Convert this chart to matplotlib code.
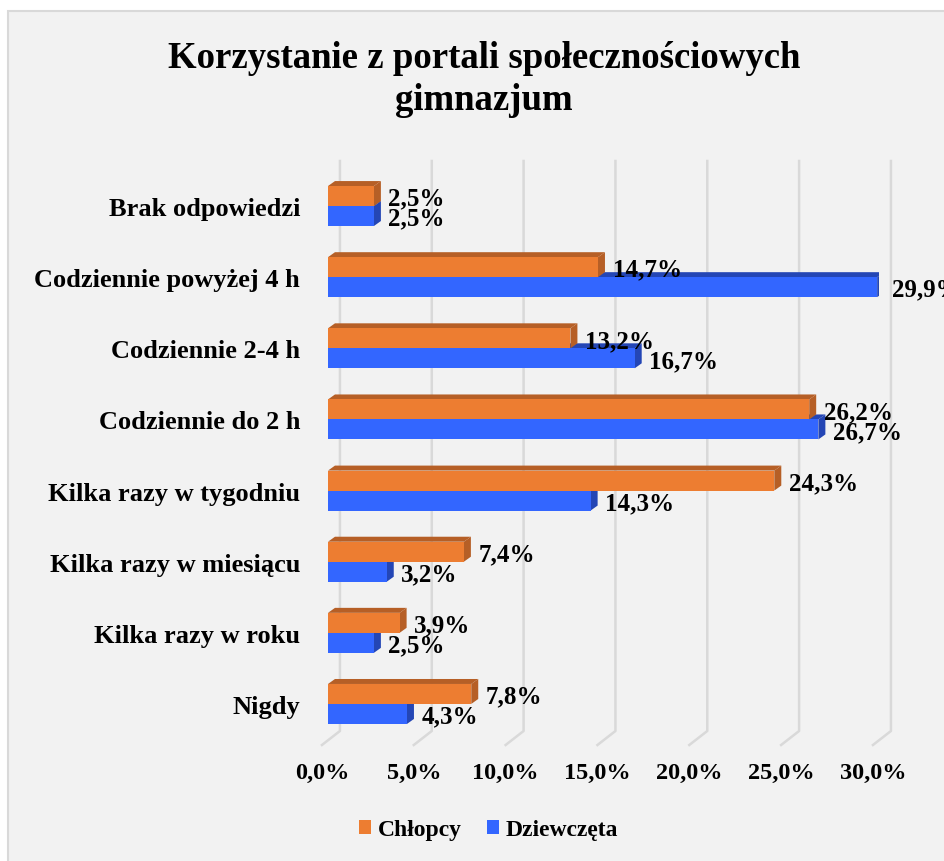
import numpy as np
import matplotlib.pyplot as plt
from matplotlib.patches import Polygon, Rectangle
from matplotlib.transforms import ScaledTranslation

categories = ['Brak odpowiedzi', 'Codziennie powyżej 4 h', 'Codziennie 2-4 h',
              'Codziennie do 2 h', 'Kilka razy w tygodniu', 'Kilka razy w miesiącu',
              'Kilka razy w roku', 'Nigdy']
chlopcy = [2.5, 14.7, 13.2, 26.2, 24.3, 7.4, 3.9, 7.8]
dziewczeta = [2.5, 29.9, 16.7, 26.7, 14.3, 3.2, 2.5, 4.3]
ticks = [0, 5, 10, 15, 20, 25, 30]
tick_labels = ['0,0%', '5,0%', '10,0%', '15,0%', '20,0%', '25,0%', '30,0%']

plt.rcParams['font.family'] = ['Liberation Serif', 'DejaVu Serif']
plt.rcParams['font.weight'] = 'bold'

W, H = 945, 862
fig = plt.figure(figsize=(W / 100, H / 100), dpi=100)
fig.patch.set_facecolor('white')

# grey chart area with thin border (cut off at right/bottom like the source)
fig.patches.append(Rectangle((8 / W, -0.01), 1.0, 1 - 12 / H + 0.01,
                             transform=fig.transFigure, facecolor='#f2f2f2',
                             edgecolor='#d9d9d9', lw=1.5, zorder=-10))

ax = fig.add_axes([328 / W, (H - 746) / H, 551 / W, 584 / H])
ax.set_facecolor('none')

n = len(categories)
pos = np.arange(n)[::-1]
bh = 0.281
ylo, yhi = -0.577, n - 1 + 0.633
ax.set_xlim(0, 30)
ax.set_ylim(ylo, yhi)

# back wall grid + floor lines
yback = ylo + 14 / 71.1
for t in ticks:
    ax.plot([t + 0.65, t + 0.65, t - 0.33], [yhi, yback, ylo],
            color='#d9d9d9', lw=1.8, zorder=0, clip_on=False)

dx, dy = 0.38, 0.07


def add_3d(bars, dark, z):
    for r in bars:
        x0, y0 = r.get_x(), r.get_y()
        w, h = r.get_width(), r.get_height()
        top = Polygon([(x0, y0 + h), (x0 + dx, y0 + h + dy), (x0 + w + dx, y0 + h + dy),
                       (x0 + w, y0 + h)], closed=True, facecolor=dark, edgecolor='none', zorder=z)
        side = Polygon([(x0 + w, y0), (x0 + w + dx, y0 + dy), (x0 + w + dx, y0 + h + dy),
                        (x0 + w, y0 + h)], closed=True, facecolor=dark, edgecolor='none', zorder=z)
        ax.add_patch(top)
        ax.add_patch(side)


orange, orange_dk = '#ed7d31', '#b65f26'
blue, blue_dk = '#3366ff', '#2446b5'

b_blue = ax.barh(pos - bh / 2, dziewczeta, height=bh, color=blue, zorder=3,
                 label='Dziewczęta')
add_3d(b_blue, blue_dk, 2)
b_or = ax.barh(pos + bh / 2, chlopcy, height=bh, color=orange, zorder=5,
               label='Chłopcy')
add_3d(b_or, orange_dk, 4)

# data labels
for vals, yy in ((chlopcy, pos + bh / 2), (dziewczeta, pos - bh / 2)):
    for v, y in zip(vals, yy):
        ax.annotate(f'{v:.1f}%'.replace('.', ','), (v, y), xytext=(10.5, -1.5),
                    textcoords='offset points', ha='left', va='center',
                    fontsize=18, fontweight='bold', zorder=10, annotation_clip=False)

ax.set_yticks(pos)
ax.set_yticklabels(categories, fontsize=19, fontweight='bold')
ax.set_xticks(ticks)
ax.set_xticklabels(tick_labels, fontsize=17.5, fontweight='bold')
ax.tick_params(axis='both', length=0)
ax.tick_params(axis='y', pad=20)
ax.tick_params(axis='x', pad=12)
for lbl in ax.get_xticklabels():
    lbl.set_transform(lbl.get_transform() + ScaledTranslation(-6 / 100, 0, fig.dpi_scale_trans))
for s in ax.spines.values():
    s.set_visible(False)

fig.text(484 / W, 1 - 41 / H, 'Korzystanie z portali społecznościowych\ngimnazjum',
         ha='center', va='top', fontsize=26.5, fontweight='bold', linespacing=1.25)

fig.legend(handles=[b_or, b_blue], labels=['Chłopcy', 'Dziewczęta'], loc='center',
           bbox_to_anchor=(489 / W, 1 - 831 / H), ncol=2, frameon=False,
           prop={'size': 17, 'weight': 'bold'}, handlelength=0.5, handleheight=0.5,
           handletextpad=0.3, columnspacing=1.05)

fig.savefig('out.png', dpi=100)
